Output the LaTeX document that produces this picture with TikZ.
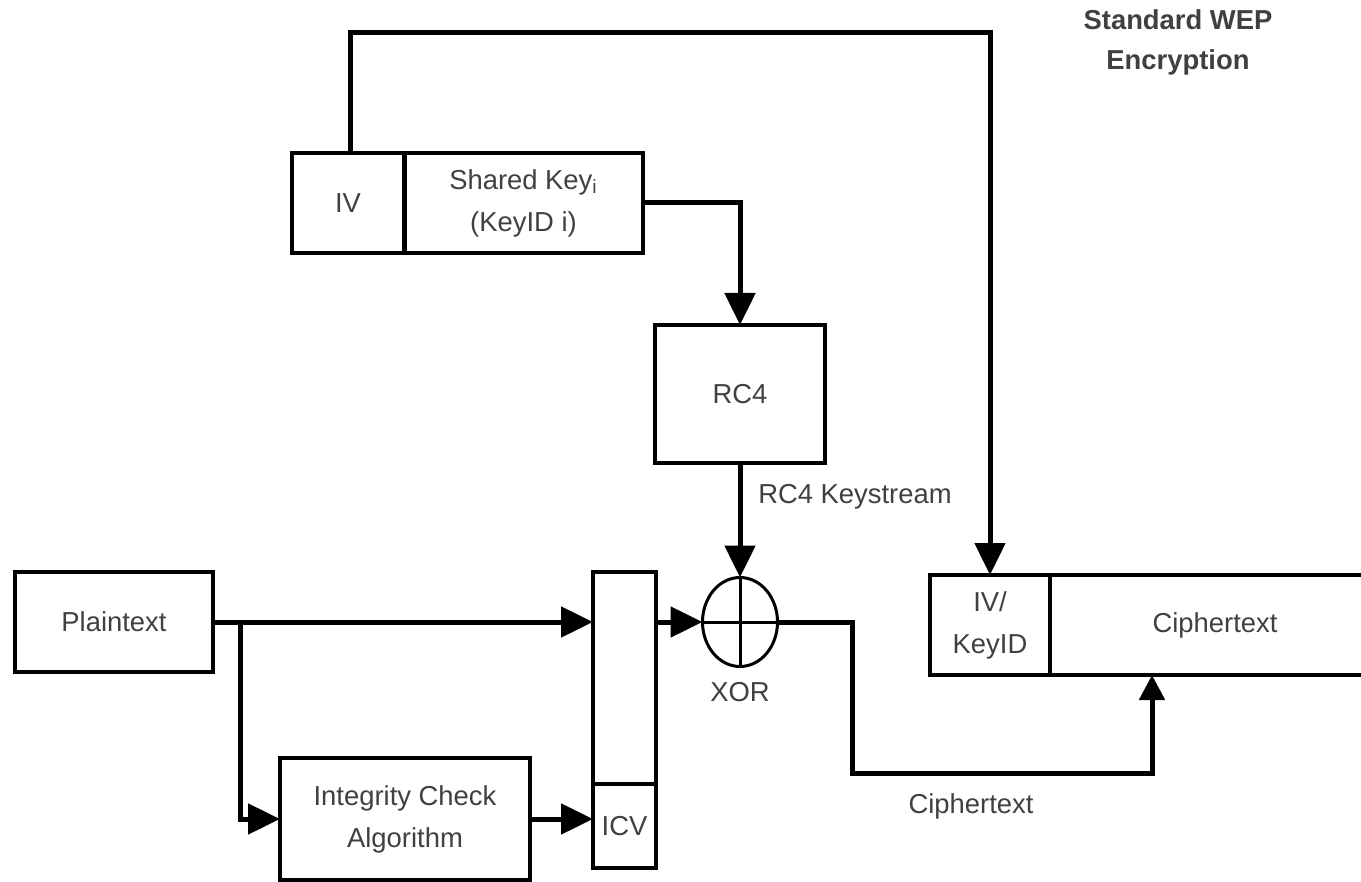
\documentclass[tikz,border=0pt]{standalone}
\usepackage{fontspec}
\setmainfont{Liberation Sans}
\usetikzlibrary{arrows.meta,shapes.geometric}
\tikzset{
  box/.style={draw, line width=2pt, inner sep=0pt, outer sep=0pt, align=center,
    text=black!75, font=\fontsize{13.7}{21}\selectfont},
  lbl/.style={text=black!75, font=\fontsize{13.7}{20}\selectfont, align=center, inner sep=0pt},
  wire/.style={line width=2.5pt},
  arr/.style={wire, -{Triangle[length=16pt,width=15pt]}},
  arrs/.style={wire, -{Triangle[length=12.5pt,width=12.5pt]}}
}
\begin{document}
\begin{tikzpicture}[x=0.5pt,y=-0.5pt]
\useasboundingbox (0,0) rectangle (1361,882);
\clip (0,0) rectangle (1361,882);
% boxes
\node[box, minimum width=56.5pt, minimum height=50pt] (iv) at (348,203) {IV};
\node[box, minimum width=119.5pt, minimum height=50pt] (sk) at (523.5,203) {Shared Key\textsubscript{i}\\(KeyID i)};
\node[box, minimum width=85pt, minimum height=69pt] (rc4) at (740,394) {RC4};
\node[box, minimum width=99pt, minimum height=50pt] (plain) at (114,622) {Plaintext};
\node[box, minimum width=125pt, minimum height=61pt] (integ) at (405,819) {Integrity Check\\Algorithm};
\node[box, minimum width=31.5pt, minimum height=106pt] (msg) at (624.5,678) {};
\node[box, minimum width=31.5pt, minimum height=42pt] (icv) at (624.5,826) {ICV};
\node[draw, ellipse, line width=1.5pt, minimum width=37.5pt, minimum height=44.5pt, inner sep=0pt, outer sep=0pt] (xor) at (740,622) {};
\node[box, minimum width=60pt, minimum height=50pt] (ivk) at (990,625) {IV/\\KeyID};
\node[box, minimum width=165pt, minimum height=50pt] (ct) at (1215,625) {Ciphertext};
% xor cross
\draw[line width=1.5pt] (xor.north) -- (xor.south) (xor.west) -- (xor.east);
% labels
\node[lbl] (ks) at (855,497) {RC4 Keystream};
\node[lbl] (xorl) at (740,692) {XOR};
\node[lbl] (ctl) at (971,806) {Ciphertext};
\node[lbl, font=\fontsize{13.7}{20}\bfseries] (title) at (1178,42) {Standard WEP\\Encryption};
% connectors
\coordinate (topc) at (350,33);
\draw[arr] (iv.north -| topc) -- (topc) -| (ivk.north);
\draw[arr] (sk.east) -| (rc4.north);
\draw[arr] (rc4.south) -- (xor.north);
\coordinate (br) at (240,622);
\draw[arr] (plain.east) -- (plain.east -| msg.west);
\draw[arr] (br) |- (integ.west);
\draw[arr] (integ.east) -- (integ.east -| icv.west);
\draw[arr] (xor.west -| msg.east) -- (xor.west);
\coordinate (c1) at (852,773);
\coordinate (c2) at (1152,773);
\draw[arrs] (xor.east) -| (c1) -- (c2) -- (c2 |- ct.south);
\end{tikzpicture}
\end{document}
